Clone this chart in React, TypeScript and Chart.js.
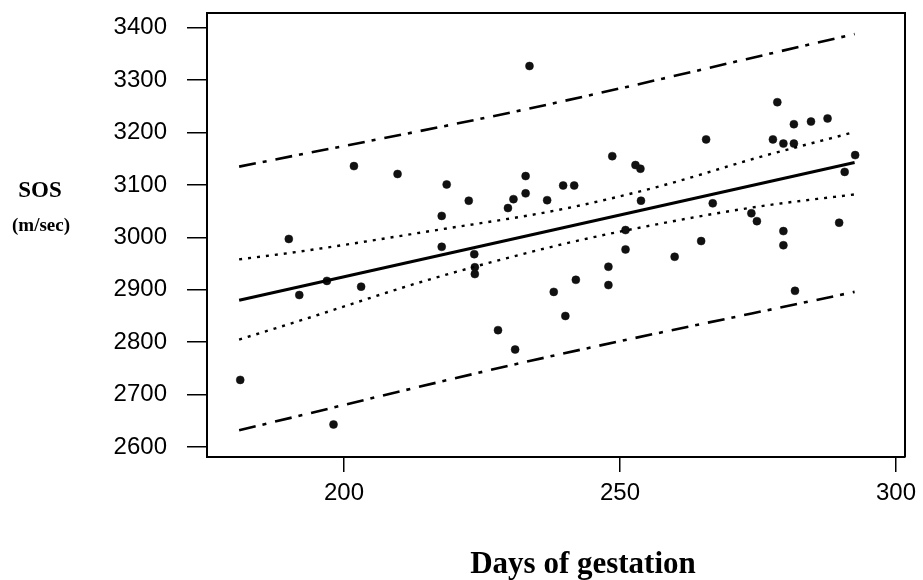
import { useEffect, useRef } from "react";
import { Chart, registerables } from "chart.js";

Chart.register(...registerables);

// Observed data: days of gestation vs speed of sound (m/sec)
const gestationDays = [
  181.2, 190.0, 191.9, 196.9, 198.1, 201.8, 209.7, 203.1, 217.7, 217.7,
  218.6, 222.6, 223.6, 223.7, 223.7, 227.9, 229.7, 230.7, 231.0, 232.9,
  232.9, 233.6, 236.8, 238.0, 239.7, 240.1, 241.7, 242.0, 247.9, 247.9,
  248.6, 251.0, 251.0, 252.8, 253.7, 253.8, 259.9, 264.7, 265.6, 266.8,
  273.8, 274.8, 277.7, 278.5, 279.6, 279.6, 279.6, 281.5, 281.5, 281.7,
  284.6, 287.6, 289.7, 290.7, 292.6,
];
const sosValues = [
  2728, 2997, 2890, 2917, 2643, 3136, 3121, 2906, 3041, 2982,
  3101, 3070, 2968, 2943, 2930, 2823, 3056, 3073, 2786, 3117,
  3084, 3327, 3071, 2896, 3099, 2850, 3099, 2919, 2944, 2909,
  3155, 3014, 2977, 3138, 3131, 3070, 2963, 2993, 3187, 3065,
  3046, 3031, 3187, 3258, 3179, 3012, 2985, 3216, 3179, 2898,
  3221, 3227, 3028, 3125, 3157,
];

// Regression line (solid)
const regressionX = [181, 292.5];
const regressionY = [2880, 3143];

// Confidence band of the mean (dotted)
const ciX = [181, 192, 215.6, 239.6, 257.7, 275.2, 292.5];
const ciUpper = [2958, 2973, 3012, 3054, 3099, 3153, 3201];
const ciLower = [2805, 2841, 2920, 2987, 3027, 3059, 3082];

// Prediction band (dash-dot)
const piX = [181, 233.6, 292.5];
const piUpper = [3135, 3246, 3388];
const piLower = [2632, 2764, 2896];

// Axis ticks
const xTicks = [200, 250, 300];
const yTicks = [2600, 2700, 2800, 2900, 3000, 3100, 3200, 3300, 3400];

const xTitle = "Days of gestation";
const yTitle = "SOS";
const yUnit = "(m/sec)";

const toXY = (xs: number[], ys: number[]) => xs.map((x, i) => ({ x, y: ys[i] }));

export default function App() {
  const ref = useRef<HTMLCanvasElement>(null);

  useEffect(() => {
    const textPlugin = {
      id: "frameAndTitles",
      afterDraw(chart: any) {
        const { ctx, chartArea: a } = chart;
        ctx.save();
        ctx.strokeStyle = "#000";
        ctx.lineWidth = 2;
        ctx.beginPath();
        ctx.moveTo(a.left, a.top);
        ctx.lineTo(a.right, a.top);
        ctx.lineTo(a.right, a.bottom);
        ctx.stroke();
        ctx.fillStyle = "#000";
        ctx.textAlign = "center";
        ctx.textBaseline = "alphabetic";
        ctx.font = 'bold 23px "Liberation Serif"';
        ctx.fillText(yTitle, 40, 197);
        ctx.font = 'bold 19px "Liberation Serif"';
        ctx.fillText(yUnit, 41, 231);
        ctx.font = 'bold 31px "Liberation Serif"';
        ctx.fillText(xTitle, 583, 573);
        ctx.restore();
      },
    };

    const lineDs = (data: any, dash: number[], width: number) => ({
      type: "line" as const,
      data,
      showLine: true,
      borderColor: "#000",
      borderWidth: width,
      borderDash: dash,
      pointRadius: 0,
      fill: false,
      cubicInterpolationMode: "monotone" as const,
    });

    const dashDot = [17, 7, 4, 9];
    const dotted = [3, 6];

    const chart = new Chart(ref.current!, {
      type: "scatter",
      data: {
        datasets: [
          lineDs(toXY(piX, piUpper), dashDot, 2.6),
          lineDs(toXY(piX, piLower), dashDot, 2.6),
          lineDs(toXY(ciX, ciUpper), dotted, 2.4),
          lineDs(toXY(ciX, ciLower), dotted, 2.4),
          lineDs(toXY(regressionX, regressionY), [], 3),
          {
            type: "scatter" as const,
            data: toXY(gestationDays, sosValues),
            pointRadius: 4,
            pointBackgroundColor: "#111",
            pointBorderColor: "#111",
            pointBorderWidth: 0.5,
          } as any,
        ],
      },
      options: {
        responsive: false,
        animation: false,
        devicePixelRatio: 1,
        layout: { padding: { top: 13, right: 18, left: 0, bottom: 0 } },
        plugins: { legend: { display: false }, tooltip: { enabled: false }, title: { display: false } },
        scales: {
          x: {
            type: "linear",
            min: 175.18,
            max: 301.63,
            afterFit: (s: any) => {
              s.height = 123;
              s.paddingLeft = 0;
              s.paddingRight = 0;
            },
            afterBuildTicks: (s: any) => {
              s.ticks = xTicks.map((v) => ({ value: v }));
            },
            grid: { display: true, drawOnChartArea: false, drawTicks: true, tickLength: 15, color: "#000", lineWidth: 1.5 },
            border: { display: true, color: "#000", width: 2 },
            ticks: {
              color: "#000",
              font: { family: "Liberation Sans", size: 24 },
              padding: 7,
              maxRotation: 0,
              callback: (v: any) => String(v),
            },
          },
          y: {
            type: "linear",
            min: 2580.9,
            max: 3428.2,
            afterFit: (s: any) => {
              s.width = 207;
              s.paddingTop = 0;
              s.paddingBottom = 0;
            },
            afterBuildTicks: (s: any) => {
              s.ticks = yTicks.map((v) => ({ value: v }));
            },
            grid: { display: true, drawOnChartArea: false, drawTicks: true, tickLength: 20, color: "#000", lineWidth: 1.5 },
            border: { display: true, color: "#000", width: 2 },
            ticks: {
              color: "#000",
              font: { family: "Liberation Sans", size: 24 },
              padding: 20,
              callback: (v: any) => String(v),
            },
          },
        },
      },
      plugins: [textPlugin],
    });
    return () => chart.destroy();
  }, []);

  return (
    <div style={{ position: "fixed", left: 0, top: 0, width: 923, height: 580, background: "#fff" }}>
      <canvas ref={ref} width={923} height={580} style={{ width: 923, height: 580, display: "block" }} />
    </div>
  );
}
